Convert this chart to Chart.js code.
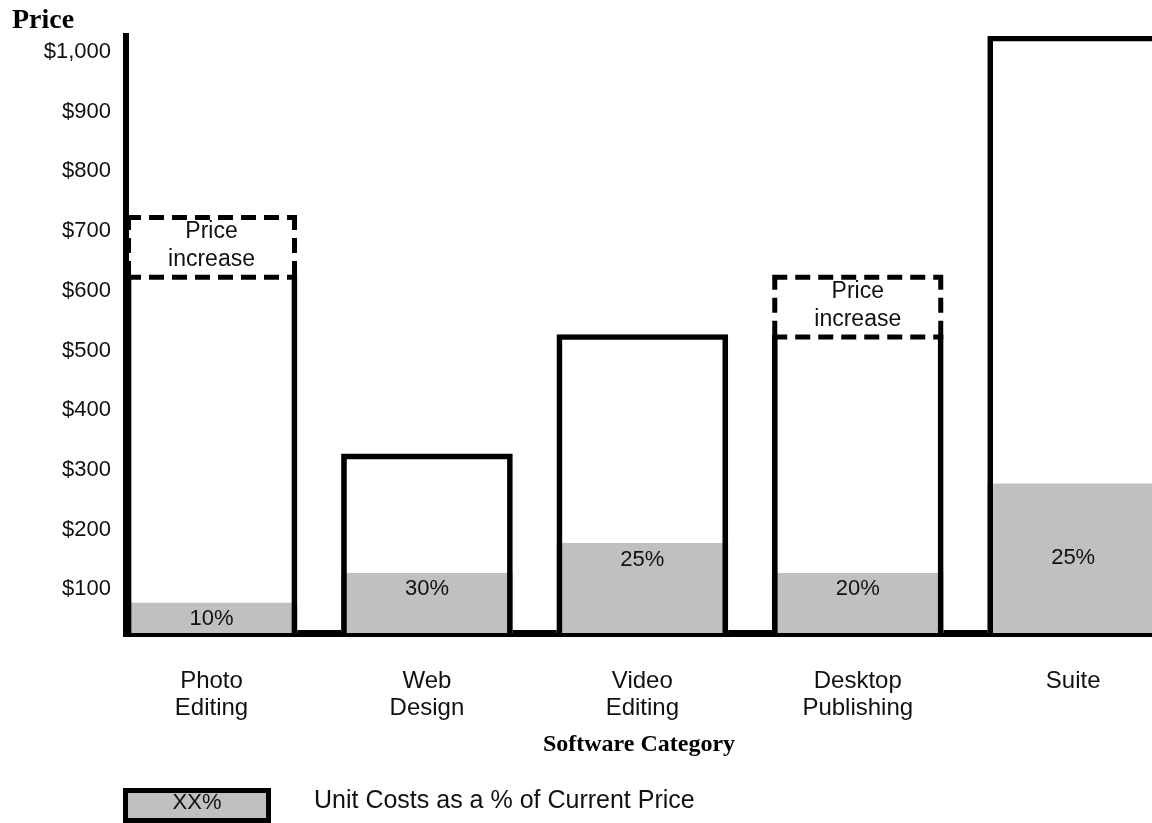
<!DOCTYPE html>
<html>
<head>
<meta charset="utf-8">
<script src="https://cdn.jsdelivr.net/npm/chart.js@4.4.0/dist/chart.umd.min.js"></script>
<style>
  html, body { margin: 0; padding: 0; background: #fff; }
  canvas { display: block; }
</style>
</head>
<body>
<canvas id="chart" width="1152" height="823"></canvas>
<script>
// data
const categories = [['Photo', 'Editing'], ['Web', 'Design'], ['Video', 'Editing'], ['Desktop', 'Publishing'], ['Suite']];
const currentPrice = [600, 300, 500, 500, 1000];
const priceIncrease = [[600, 700], null, null, [500, 600], null];
const unitCost = [50, 100, 150, 100, 250];
const costPctLabels = ['10%', '30%', '25%', '20%', '25%'];
const yTicks = [100, 200, 300, 400, 500, 600, 700, 800, 900, 1000];

const yAxisTitle = 'Price';
const xAxisTitle = 'Software Category';
const increaseLabel = ['Price', 'increase'];
const legendSwatchText = 'XX%';
const legendText = 'Unit Costs as a % of Current Price';

const SANS = '"Liberation Sans", Arial, sans-serif';
const SERIF = '"Liberation Serif", "Times New Roman", serif';
const GREY = '#c0c0c0';
const LINE = 5;
// where the % label sits in the grey block
const pctAnchor = ['top', 'top', 'top', 'top', 'center'];

const xs = (arr) => arr.map((v, i) => ({ x: i, y: v }));

// dashed "price increase" boxes + in-bar texts + top-left title + legend
const annotate = {
  id: 'annotate',
  afterDatasetsDraw(chart) {
    const ctx = chart.ctx;

    // dashed boxes
    const incMeta = chart.getDatasetMeta(2);
    incMeta.data.forEach((bar, i) => {
      if (!priceIncrease[i]) return;
      const { x, y, base, width } = bar.getProps(['x', 'y', 'base', 'width'], true);
      const l = x - width / 2, r = x + width / 2;
      ctx.save();
      ctx.strokeStyle = '#000';
      ctx.lineWidth = LINE;
      ctx.setLineDash([15, 8]);
      ctx.beginPath();
      ctx.moveTo(l, y + LINE / 2); ctx.lineTo(r, y + LINE / 2);
      ctx.moveTo(l, base + LINE / 2); ctx.lineTo(r, base + LINE / 2);
      ctx.moveTo(l + LINE / 2, y); ctx.lineTo(l + LINE / 2, base);
      ctx.moveTo(r - LINE / 2, y); ctx.lineTo(r - LINE / 2, base);
      ctx.stroke();
      ctx.restore();

      ctx.save();
      ctx.fillStyle = '#111';
      ctx.font = '23px ' + SANS;
      ctx.textAlign = 'center';
      ctx.textBaseline = 'middle';
      const mid = (y + base) / 2;
      ctx.fillText(increaseLabel[0], x, mid - 13);
      ctx.fillText(increaseLabel[1], x, mid + 15);
      ctx.restore();
    });

    // cost % labels
    const costMeta = chart.getDatasetMeta(0);
    costMeta.data.forEach((bar, i) => {
      const { x, y, base } = bar.getProps(['x', 'y', 'base'], true);
      ctx.save();
      ctx.fillStyle = '#111';
      ctx.font = '22px ' + SANS;
      ctx.textAlign = 'center';
      ctx.textBaseline = 'middle';
      const ty = pctAnchor[i] === 'center' ? (y + base) / 2 : y + 16;
      ctx.fillText(costPctLabels[i], x, ty);
      ctx.restore();
    });
  },
  afterDraw(chart) {
    const ctx = chart.ctx;
    ctx.save();
    ctx.fillStyle = '#000';
    ctx.font = 'bold 28px ' + SERIF;
    ctx.textBaseline = 'alphabetic';
    ctx.textAlign = 'left';
    ctx.fillText(yAxisTitle, 12, 28);

    // legend
    const bx = 123, by = 788, bw = 148, bh = 35;
    ctx.fillStyle = '#000';
    ctx.fillRect(bx, by, bw, bh);
    ctx.fillStyle = GREY;
    ctx.fillRect(bx + LINE, by + LINE, bw - 2 * LINE, bh - 2 * LINE);
    ctx.fillStyle = '#111';
    ctx.font = '22px ' + SANS;
    ctx.textAlign = 'center';
    ctx.textBaseline = 'middle';
    ctx.fillText(legendSwatchText, bx + bw / 2, by + 15);
    ctx.textAlign = 'left';
    ctx.font = '25px ' + SANS;
    ctx.fillText(legendText, 314, by + 13);
    ctx.restore();
  }
};

new Chart(document.getElementById('chart'), {
  type: 'bar',
  data: {
    datasets: [
      {
        label: 'Unit cost',
        data: xs(unitCost),
        backgroundColor: GREY,
        borderWidth: 0,
        grouped: false,
        barThickness: 171,
        order: 2
      },
      {
        label: 'Current price',
        data: xs(currentPrice),
        backgroundColor: 'rgba(0,0,0,0)',
        borderColor: '#000',
        borderWidth: (c) => (priceIncrease[c.dataIndex]
          ? { top: 0, left: LINE, right: LINE, bottom: 0 }
          : { top: LINE, left: LINE, right: LINE, bottom: 0 }),
        borderSkipped: false,
        grouped: false,
        barThickness: 171,
        order: 1
      },
      {
        label: 'Price increase',
        data: xs(priceIncrease),
        backgroundColor: 'rgba(0,0,0,0)',
        borderWidth: 0,
        grouped: false,
        barThickness: 171,
        order: 0
      }
    ]
  },
  options: {
    responsive: false,
    animation: false,
    devicePixelRatio: 1,
    layout: { padding: { top: 36, right: 0, left: 0, bottom: 65 } },
    plugins: {
      legend: { display: false },
      tooltip: { enabled: false },
      title: { display: false }
    },
    scales: {
      x: {
        type: 'linear',
        offset: false,
        z: 1,
        min: -0.397,
        max: 4.366,
        afterBuildTicks: (s) => { s.ticks = categories.map((c, i) => ({ value: i })); },
        afterFit: (s) => { s.height = 125; },
        grid: { display: false, drawTicks: false, offset: false },
        border: { display: true, color: '#000', width: 7 },
        ticks: {
          autoSkip: false,
          maxRotation: 0,
          padding: 35,
          color: '#111',
          font: { family: SANS, size: 24, lineHeight: 1.125 },
          callback: (v) => categories[v]
        },
        title: {
          display: true,
          text: xAxisTitle,
          color: '#000',
          font: { family: SERIF, size: 24, weight: 'bold', lineHeight: 1 },
          padding: { top: 0, bottom: 1 }
        }
      },
      y: {
        min: 0,
        max: 1000,
        z: 1,
        afterBuildTicks: (s) => { s.ticks = yTicks.map((v) => ({ value: v })); },
        afterFit: (s) => { s.width = 126; },
        grid: { display: false, drawTicks: false },
        border: { display: true, color: '#000', width: 6 },
        ticks: {
          padding: 15,
          labelOffset: 16,
          color: '#111',
          font: { family: SANS, size: 22 },
          callback: (v) => '$' + v.toLocaleString('en-US')
        }
      }
    }
  },
  plugins: [annotate]
});
</script>
</body>
</html>
